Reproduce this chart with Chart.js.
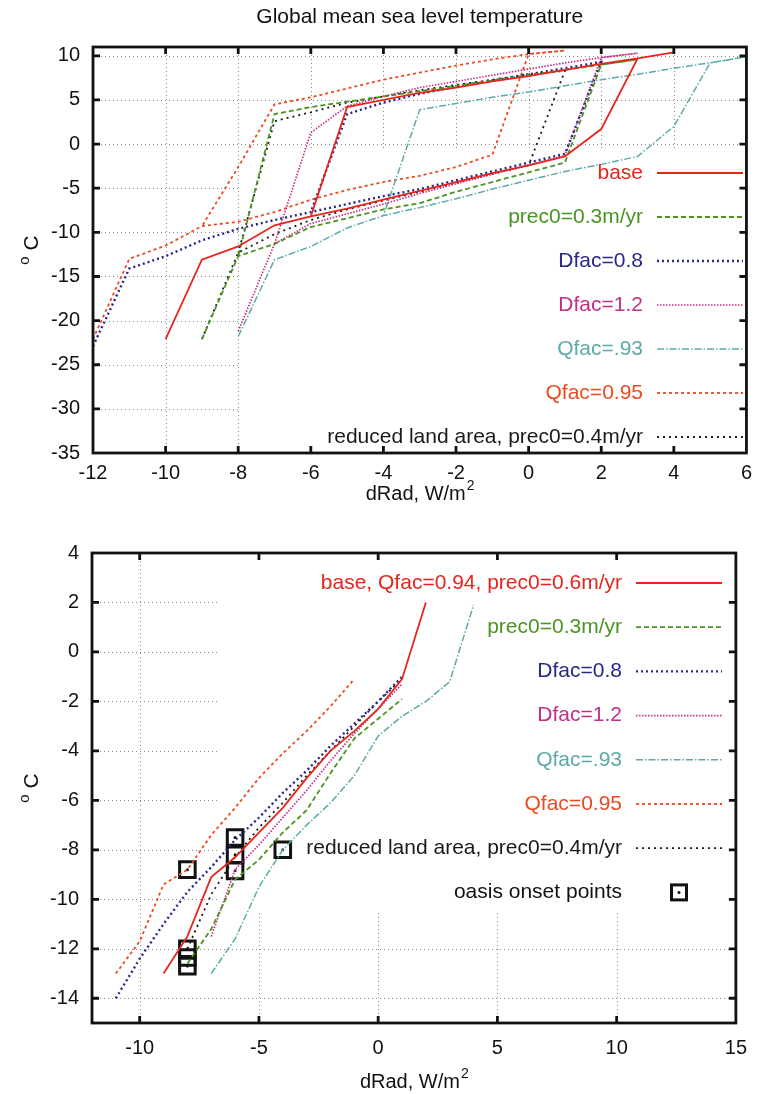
<!DOCTYPE html>
<html>
<head>
<meta charset="utf-8">
<script src="https://cdn.jsdelivr.net/npm/chart.js@4.4.1/dist/chart.umd.min.js"></script>
<style>
body { margin: 0; background: #fff; width: 760px; height: 1094px; overflow: hidden; position: relative; }
canvas { position: absolute; left: 0; }
#top { top: 0; }
#bottom { top: 510px; }
</style>
</head>
<body>
<canvas id="top" width="760" height="510"></canvas>
<canvas id="bottom" width="760" height="584"></canvas>
<script>
// ---- data: [dRad, temperature] ----
// upper panel: each run walks the cold branch up, jumps, walks the warm branch back, drops
var topBase = [[-10,-22.1],[-9,-13.1],[-8,-11.6],[-7,-9.2],[-6,-8.2],[-5,-7.3],[-4,-6.3],[-3,-5.3],[-2,-4.3],[-1,-3.3],[0,-2.4],[1,-1.4],[2,1.7],[3,9.7],[4,10.4],
  [3,9.7],[2,9.1],[1,8.4],[0,7.7],[-1,7.1],[-2,6.4],[-3,5.8],[-4,5.0],[-5,4.2],[-6,-8.2]];
var topPrec = [[-9,-22.1],[-8,-12.7],[-7,-11.3],[-6,-9.4],[-5,-8.4],[-4,-7.4],[-3,-6.7],[-2,-5.4],[-1,-4.3],[0,-3.2],[1,-2.1],[2,9.0],[3,9.6],
  [2,9.0],[1,8.4],[0,7.8],[-1,7.2],[-2,6.6],[-3,6.0],[-4,5.4],[-5,4.8],[-6,4.2],[-7,3.4],[-8,-12.7]];
var topDfac08 = [[-12,-22.9],[-11,-14.1],[-10,-12.7],[-9,-10.9],[-8,-9.6],[-7,-8.6],[-6,-7.7],[-5,-6.8],[-4,-5.9],[-3,-5.1],[-2,-4.1],[-1,-3.1],[0,-2.1],[1,-1.1],[2,9.3],
  [1,8.6],[0,7.9],[-1,7.2],[-2,6.5],[-3,5.7],[-4,4.7],[-5,3.4],[-6,-7.7]];
var topDfac12 = [[-8,-21.2],[-7,-11.3],[-6,-9.0],[-5,-7.9],[-4,-6.8],[-3,-5.6],[-2,-4.5],[-1,-3.4],[0,-2.4],[1,-1.3],[2,9.8],[3,10.3],
  [2,9.8],[1,9.2],[0,8.5],[-1,7.8],[-2,7.1],[-3,6.4],[-4,5.4],[-5,4.3],[-6,1.3],[-7,-11.3]];
var topQ93 = [[-8,-21.8],[-7,-13.1],[-6,-11.6],[-5,-9.5],[-4,-8.1],[-3,-7.2],[-2,-6.2],[-1,-5.1],[0,-4.1],[1,-3.1],[2,-2.3],[3,-1.4],[4,2.0],[5,9.2],[6,9.9],
  [5,9.2],[4,8.6],[3,7.9],[2,7.3],[1,6.6],[0,5.9],[-1,5.3],[-2,4.6],[-3,3.9],[-4,-8.1]];
var topQ95 = [[-12,-22.1],[-11,-13.0],[-10,-11.5],[-9,-9.3],[-8,-8.8],[-7,-7.7],[-6,-6.3],[-5,-5.2],[-4,-4.3],[-3,-3.6],[-2,-2.6],[-1,-1.2],[0,10.2],[1,10.6],
  [0,10.2],[-1,9.6],[-2,8.9],[-3,8.1],[-4,7.3],[-5,6.3],[-6,5.3],[-7,4.5],[-8,-2.6],[-9,-9.3]];
var topLand = [[-9,-22.1],[-8,-12.3],[-7,-10.2],[-6,-8.6],[-5,-7.4],[-4,-6.4],[-3,-5.4],[-2,-4.4],[-1,-3.4],[0,-2.4],[1,8.3],
  [0,7.9],[-1,7.3],[-2,6.7],[-3,6.1],[-4,5.4],[-5,4.7],[-6,3.6],[-7,2.6],[-8,-12.3]];

// lower panel: cold branches only
var botBase = [[-9,-13],[-8,-11.5],[-7,-9.1],[-6,-8.3],[-5,-7.3],[-4,-6.3],[-3,-5.1],[-2,-4.0],[-1,-3.2],[0,-2.3],[1,-1.1],[2,2.0]];
var botPrec = [[-8,-12.6],[-7,-11.2],[-6,-9.2],[-5,-8.4],[-4,-7.3],[-3,-6.4],[-2,-4.9],[-1,-3.5],[0,-2.7],[1,-1.9]];
var botDfac08 = [[-11,-14],[-10,-12.4],[-9,-11.0],[-8,-9.7],[-7,-8.7],[-6,-7.6],[-5,-6.7],[-4,-5.7],[-3,-4.8],[-2,-3.8],[-1,-2.9],[0,-2.0],[1,-1.0]];
var botDfac12 = [[-7,-11.5],[-6,-8.8],[-5,-7.8],[-4,-6.7],[-3,-5.6],[-2,-4.4],[-1,-3.3],[0,-2.3],[1,-1.3]];
var botQ93 = [[-7,-13.0],[-6,-11.6],[-5,-9.5],[-4,-8.0],[-3,-7.0],[-2,-6.1],[-1,-5.0],[0,-3.4],[1,-2.6],[2,-2.0],[3,-1.2],[4,1.9]];
var botQ95 = [[-11,-13],[-10,-11.7],[-9,-9.4],[-8,-8.8],[-7,-7.4],[-6,-6.3],[-5,-5.1],[-4,-4.1],[-3,-3.2],[-2,-2.2],[-1,-1.1]];
var botLand = [[-8,-12.0],[-7,-9.8],[-6,-8.3],[-5,-7.1],[-4,-6.1],[-3,-5.0],[-2,-4.0],[-1,-3.0],[0,-2.0],[1,-1.1]];
var oasisX = [-8, -6, -6, -6, -4, -8, -8, -8];
var oasisY = [-8.8, -7.5, -8.2, -8.85, -8.0, -12.0, -12.35, -12.7];

var topLabels = ['base', 'prec0=0.3m/yr', 'Dfac=0.8', 'Dfac=1.2', 'Qfac=.93', 'Qfac=0.95', 'reduced land area, prec0=0.4m/yr'];
var botLabels = ['base, Qfac=0.94, prec0=0.6m/yr', 'prec0=0.3m/yr', 'Dfac=0.8', 'Dfac=1.2', 'Qfac=.93', 'Qfac=0.95', 'reduced land area, prec0=0.4m/yr', 'oasis onset points'];

var FONT = '"Liberation Sans", Arial, sans-serif';

// line styles, same order as the labels
var colors = ['#e8251c', '#4a9420', '#27288a', '#c22e86', '#5caaa9', '#ec4a22', '#1a1a1a'];
var dashes = [[], [5, 3], [2, 3], [1.5, 1.5], [7, 2, 1.5, 2], [3, 3], [2, 4]];
var widths = [1.8, 1.8, 2.4, 1.7, 1.5, 1.8, 1.8];

function pts(a) {
    return a.map(function (p) { return { x: p[0], y: p[1] }; });
}

function series(i, label, data) {
    return {
        label: label, data: pts(data), showLine: true, fill: false, tension: 0,
        borderColor: colors[i], backgroundColor: colors[i],
        borderDash: dashes[i], borderWidth: widths[i], pointRadius: 0
    };
}

function line(ctx, x1, y1, x2, y2) {
    ctx.moveTo(x1, y1);
    ctx.lineTo(x2, y2);
}

// gnuplot look: dotted grid (cleared under the key), heavy border, inward ticks, key on the right
var frame = {
    id: 'frame',
    beforeDatasetsDraw: function (chart, args, o) {
        var ctx = chart.ctx, a = chart.chartArea, k = o.key;
        var xs = chart.scales.x, ys = chart.scales.y;
        ctx.save();
        ctx.beginPath();
        ctx.rect(a.left, a.top, a.right - a.left, a.bottom - a.top);
        ctx.rect(k[0], k[1], k[2] - k[0], k[3] - k[1]);
        ctx.clip('evenodd');
        ctx.strokeStyle = '#8a8a8a';
        ctx.lineWidth = 1;
        ctx.setLineDash([1, 3]);
        ctx.beginPath();
        xs.ticks.forEach(function (t) {
            if (t.value <= xs.min || t.value >= xs.max) return;
            var p = Math.round(xs.getPixelForValue(t.value)) + 0.5;
            line(ctx, p, a.top, p, a.bottom);
        });
        ys.ticks.forEach(function (t) {
            if (t.value <= ys.min || t.value >= ys.max) return;
            var p = Math.round(ys.getPixelForValue(t.value)) + 0.5;
            line(ctx, a.left, p, a.right, p);
        });
        ctx.stroke();
        ctx.restore();
    },
    afterDatasetsDraw: function (chart, args, o) {
        var ctx = chart.ctx, a = chart.chartArea;
        var xs = chart.scales.x, ys = chart.scales.y;
        ctx.save();
        ctx.setLineDash([]);
        ctx.strokeStyle = '#111';
        ctx.lineWidth = 2.8;
        ctx.strokeRect(a.left, a.top, a.right - a.left, a.bottom - a.top);
        ctx.beginPath();
        xs.ticks.forEach(function (t) {
            if (t.value <= xs.min || t.value >= xs.max) return;
            var p = xs.getPixelForValue(t.value);
            line(ctx, p, a.bottom, p, a.bottom - 7);
            line(ctx, p, a.top, p, a.top + 7);
        });
        ys.ticks.forEach(function (t) {
            if (t.value <= ys.min || t.value >= ys.max) return;
            var p = ys.getPixelForValue(t.value);
            line(ctx, a.left, p, a.left + 7, p);
            line(ctx, a.right, p, a.right - 7, p);
        });
        ctx.stroke();

        // key
        var L = o.legend;
        ctx.font = '21px ' + FONT;
        ctx.textAlign = 'right';
        ctx.textBaseline = 'middle';
        var row = 0;
        chart.data.datasets.forEach(function (ds) {
            if (!ds.label) return;
            var y = L.y0 + row * L.step;
            row++;
            ctx.fillStyle = ds.legendText || ds.borderColor;
            ctx.fillText(ds.label, L.textRight, y);
            if (ds.showLine) {
                ctx.beginPath();
                ctx.strokeStyle = ds.borderColor;
                ctx.lineWidth = ds.borderWidth;
                ctx.setLineDash(ds.borderDash || []);
                line(ctx, L.lineL, y, L.lineR, y);
                ctx.stroke();
            } else {
                var mx = (L.lineL + L.lineR) / 2;
                ctx.setLineDash([]);
                ctx.strokeStyle = '#111';
                ctx.lineWidth = 3;
                ctx.strokeRect(mx - 7.5, y - 7.5, 15, 15);
                ctx.fillStyle = '#111';
                ctx.beginPath();
                ctx.arc(mx, y, 1.5, 0, Math.PI * 2);
                ctx.fill();
            }
        });

        // titles
        ctx.fillStyle = '#111';
        ctx.textAlign = 'center';
        var cx = (a.left + a.right) / 2, cy = (a.top + a.bottom) / 2;
        if (o.title) {
            ctx.font = '21px ' + FONT;
            ctx.fillText(o.title, cx, o.titleY);
        }
        // x title with superscript 2
        ctx.font = '20px ' + FONT;
        var xt = 'dRad, W/m';
        var w1 = ctx.measureText(xt).width;
        ctx.textAlign = 'left';
        ctx.fillText(xt, cx - (w1 + 8) / 2, o.xTitleY);
        ctx.font = '14px ' + FONT;
        ctx.fillText('2', cx - (w1 + 8) / 2 + w1 + 1, o.xTitleY - 8);
        // y title: superscript o, then C
        ctx.translate(32, cy);
        ctx.rotate(-Math.PI / 2);
        ctx.font = '15px ' + FONT;
        var wo = ctx.measureText('o').width;
        ctx.font = '21px ' + FONT;
        var wc = ctx.measureText(' C').width;
        var x0 = -(wo + wc) / 2;
        ctx.font = '15px ' + FONT;
        ctx.fillText('o', x0, -7);
        ctx.font = '21px ' + FONT;
        ctx.fillText(' C', x0 + wo, 0);
        ctx.restore();
    }
};

function axes(xmin, xmax, xstep, ymin, ymax, ystep, yWidth, xHeight, xPad) {
    var tickFont = { family: FONT, size: 20 };
    return {
        x: {
            type: 'linear', min: xmin, max: xmax,
            grid: { display: false, drawTicks: false }, border: { display: false },
            ticks: { stepSize: xstep, includeBounds: false, color: '#111', font: tickFont, padding: xPad, maxRotation: 0 },
            afterFit: function (s) { s.height = xHeight; }
        },
        y: {
            type: 'linear', min: ymin, max: ymax,
            grid: { display: false, drawTicks: false }, border: { display: false },
            ticks: { stepSize: ystep, includeBounds: false, color: '#111', font: tickFont, padding: 13 },
            afterFit: function (s) { s.width = yWidth; }
        }
    };
}

var topSets = [
    series(0, topLabels[0], topBase),
    series(1, topLabels[1], topPrec),
    series(2, topLabels[2], topDfac08),
    series(3, topLabels[3], topDfac12),
    series(4, topLabels[4], topQ93),
    series(5, topLabels[5], topQ95),
    series(6, topLabels[6], topLand)
];

new Chart(document.getElementById('top'), {
    type: 'scatter',
    data: { datasets: topSets },
    options: {
        responsive: false, animation: false, devicePixelRatio: 1,
        layout: { padding: { left: 0, right: 12, top: 47, bottom: 0 } },
        scales: axes(-12, 6, 2, -35, 11, 5, 93, 57, 8),
        plugins: {
            legend: { display: false }, tooltip: { enabled: false },
            frame: {
                key: [240, 151, 745, 460],
                legend: { y0: 173, step: 44, textRight: 643, lineL: 657, lineR: 743 },
                title: 'Global mean sea level temperature', titleY: 17,
                xTitleY: 494
            }
        }
    },
    plugins: [frame]
});

var oasis = oasisX.map(function (x, i) { return [x, oasisY[i]]; });

var botSets = [
    series(0, botLabels[0], botBase),
    series(1, botLabels[1], botPrec),
    series(2, botLabels[2], botDfac08),
    series(3, botLabels[3], botDfac12),
    series(4, botLabels[4], botQ93),
    series(5, botLabels[5], botQ95),
    series(6, botLabels[6], botLand),
    {
        label: botLabels[7], data: pts(oasis), showLine: false,
        pointStyle: 'rect', pointRadius: 11, borderWidth: 3,
        borderColor: '#111', backgroundColor: 'rgba(0,0,0,0)', legendText: '#111'
    },
    {
        label: '', data: pts(oasis), showLine: false,
        pointStyle: 'circle', pointRadius: 1.5, borderWidth: 0, backgroundColor: '#111'
    }
];

new Chart(document.getElementById('bottom'), {
    type: 'scatter',
    data: { datasets: botSets },
    options: {
        responsive: false, animation: false, devicePixelRatio: 1,
        layout: { padding: { left: 0, right: 14, top: 43, bottom: 0 } },
        scales: axes(-12, 15, 5, -15, 4, 2, 92, 71, 13),
        plugins: {
            legend: { display: false }, tooltip: { enabled: false },
            frame: {
                key: [217, 49, 733, 402],
                legend: { y0: 73, step: 44.2, textRight: 622, lineL: 636, lineR: 722 },
                title: '', titleY: 0,
                xTitleY: 572
            }
        }
    },
    plugins: [frame]
});
</script>
</body>
</html>
